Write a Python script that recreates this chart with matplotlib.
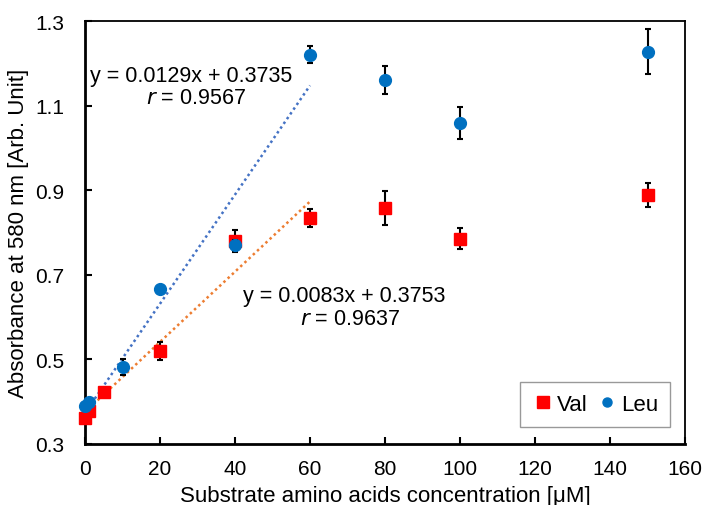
import matplotlib
matplotlib.use("Agg")
import matplotlib.pyplot as plt
from matplotlib.lines import Line2D

plt.rcParams['font.family'] = ['Liberation Sans', 'DejaVu Sans']

# concentrations (uM)
leu_x = [0, 1, 10, 20, 40, 60, 80, 100, 150]
leu_y = [0.39, 0.40, 0.482, 0.666, 0.77, 1.22, 1.16, 1.059, 1.227]
leu_err = [0.005, 0.005, 0.02, 0.005, 0.012, 0.02, 0.033, 0.037, 0.053]

val_x = [0, 1, 5, 20, 40, 60, 80, 100, 150]
val_y = [0.362, 0.378, 0.423, 0.52, 0.78, 0.834, 0.858, 0.785, 0.889]
val_err = [0.005, 0.005, 0.008, 0.022, 0.025, 0.022, 0.04, 0.025, 0.028]

# linear fits shown on the chart (0-60 uM)
leu_fit = (0.0129, 0.3735)
val_fit = (0.0083, 0.3753)
fit_x = [0, 60]

fig = plt.figure(figsize=(7.03, 5.06), dpi=100)
ax = fig.add_axes([85/703, 1 - 445/506, (685-85)/703, (445-22)/506])

ax.plot(fit_x, [leu_fit[0]*x + leu_fit[1] for x in fit_x], ls=(0, (1, 1.3)), color='#4472C4', lw=1.8, zorder=1)
ax.plot(fit_x, [val_fit[0]*x + val_fit[1] for x in fit_x], ls=(0, (1, 1.3)), color='#ED7D31', lw=1.8, zorder=1)

for art in ax.errorbar(val_x, val_y, yerr=val_err, fmt='s', color='#FF0000', ms=9,
                       ecolor='black', elinewidth=1.5, capsize=2.3, capthick=1.5, zorder=3).lines:
    if art is None:
        continue
    for a in (art if isinstance(art, tuple) else [art]):
        a.set_clip_on(False)
for art in ax.errorbar(leu_x, leu_y, yerr=leu_err, fmt='o', color='#0070C0', ms=8.5,
                       ecolor='black', elinewidth=1.5, capsize=2.3, capthick=1.5, zorder=4).lines:
    if art is None:
        continue
    for a in (art if isinstance(art, tuple) else [art]):
        a.set_clip_on(False)

ax.text(1.3, 1.17, 'y = 0.0129x + 0.3735', fontsize=15.5, ha='left', va='center')
ax.text(29.6, 1.118, '$\\it{r}$ = 0.9567', fontsize=15.5, ha='center', va='center')
ax.text(42.1, 0.652, 'y = 0.0083x + 0.3753', fontsize=15.5, ha='left', va='center')
ax.text(70.7, 0.596, '$\\it{r}$ = 0.9637', fontsize=15.5, ha='center', va='center')

ax.set_xlim(0, 160)
ax.set_ylim(0.3, 1.3)
ax.set_xticks(range(0, 161, 20))
ax.set_yticks([0.3, 0.5, 0.7, 0.9, 1.1, 1.3])
ax.set_yticklabels(['0.3', '0.5', '0.7', '0.9', '1.1', '1.3'])
ax.tick_params(direction='in', length=5, width=1.5, labelsize=15)
ax.tick_params(axis='y', pad=15)
ax.tick_params(axis='x', pad=11)
for s in ['left', 'bottom']:
    ax.spines[s].set_linewidth(2)
for s in ['top', 'right']:
    ax.spines[s].set_linewidth(1.3)

ax.set_xlabel('Substrate amino acids concentration [μM]', fontsize=16, labelpad=5)
ax.set_ylabel('Absorbance at 580 nm [Arb. Unit]', fontsize=16, labelpad=4)

handles = [Line2D([], [], ls='none', marker='s', color='#FF0000', ms=9),
           Line2D([], [], ls='none', marker='o', color='#0070C0', ms=6.5)]
leg = ax.legend(handles, ['Val', 'Leu'], loc='lower right', ncol=2, fontsize=16,
                frameon=True, fancybox=False, edgecolor='#808080',
                handletextpad=0.1, columnspacing=0.4, handlelength=1.0,
                borderpad=0.55, borderaxespad=0, bbox_to_anchor=(0.975, 0.04))
leg.get_frame().set_linewidth(1)

fig.savefig('out.png', dpi=100)
